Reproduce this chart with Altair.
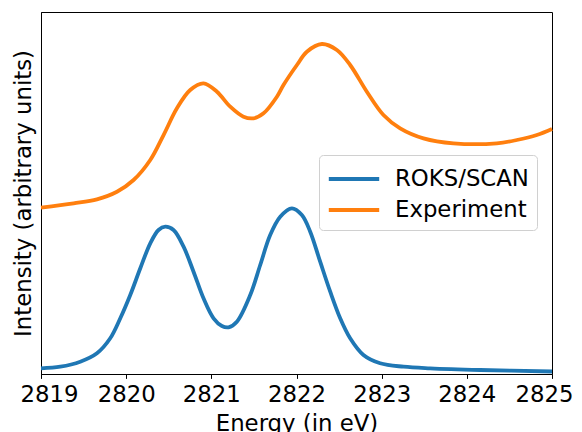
import altair as alt
import pandas as pd

series_names = ["ROKS/SCAN", "Experiment"]
series_colors = ["#1f77b4", "#ff7f0e"]

roks_energy = [2819.0, 2819.227, 2819.461, 2819.657, 2819.813, 2819.931, 2820.048, 2820.166,
               2820.283, 2820.380, 2820.459, 2820.556, 2820.674, 2820.791, 2820.908, 2821.026,
               2821.124, 2821.202, 2821.300, 2821.457, 2821.574, 2821.691, 2821.809,
               2821.946, 2822.063, 2822.161, 2822.278, 2822.396, 2822.513, 2822.630, 2822.786,
               2822.982, 2823.256, 2823.569, 2824.156, 2825.0]
roks_intensity = [0.0157, 0.0202, 0.0340, 0.0572, 0.0986, 0.1539, 0.2182, 0.2920,
                  0.3610, 0.3978, 0.4069, 0.3978, 0.3517, 0.2826, 0.2091, 0.1539,
                  0.1326, 0.1290, 0.1445, 0.2182, 0.3011, 0.3840, 0.4345,
                  0.4577, 0.4392, 0.3931, 0.3102, 0.2273, 0.1539, 0.0986, 0.0525,
                  0.0296, 0.0202, 0.0157, 0.0110, 0.0069]

exp_energy = [2819.0, 2819.383, 2819.657, 2819.892, 2820.087, 2820.283, 2820.439, 2820.596,
              2820.752, 2820.908, 2821.066, 2821.222, 2821.378, 2821.495, 2821.613, 2821.770,
              2821.847, 2822.005, 2822.122, 2822.298, 2822.474, 2822.630, 2822.826, 2823.021,
              2823.217, 2823.491, 2823.843, 2824.352, 2824.587, 2824.822, 2825.0]
exp_intensity = [0.4594, 0.4715, 0.4826, 0.5036, 0.5359, 0.5912, 0.6602, 0.7340,
                 0.7845, 0.8030, 0.7798, 0.7384, 0.7108, 0.7064, 0.7202, 0.7660,
                 0.7983, 0.8536, 0.8903, 0.9116, 0.8950, 0.8536, 0.7798, 0.7155,
                 0.6787, 0.6511, 0.6373, 0.6373, 0.6464, 0.6602, 0.6768]

x_ticks = [2819, 2820, 2821, 2822, 2823, 2824, 2825]

df = pd.concat([
    pd.DataFrame({"energy": roks_energy, "intensity": roks_intensity, "series": series_names[0]}),
    pd.DataFrame({"energy": exp_energy, "intensity": exp_intensity, "series": series_names[1]}),
])

FONT = "DejaVu Sans"
FS = 22.8

chart = alt.Chart(df).mark_line(strokeWidth=3.8, interpolate="catmull-rom").encode(
    x=alt.X("energy:Q",
            scale=alt.Scale(domain=[2819, 2825], nice=False, zero=False),
            axis=alt.Axis(values=x_ticks, format="d", title="Energy (in eV)",
                          labelFontSize=FS, titleFontSize=FS, labelFont=FONT, titleFont=FONT,
                          labelColor="black", titleColor="black", titleFontWeight="normal",
                          tickColor="black", tickSize=4.4, tickWidth=1, domainColor="black",
                          labelPadding=5, titleY=38, titleBaseline="top", grid=False,
                          labelFlush=True, labelFlushOffset=21)),
    y=alt.Y("intensity:Q",
            scale=alt.Scale(domain=[0, 1], nice=False, zero=False),
            axis=alt.Axis(labels=False, ticks=False, title="Intensity (arbitrary units)",
                          titleFontSize=FS, titleFont=FONT, titleColor="black",
                          titleFontWeight="normal", titleAngle=270, titleBaseline="alphabetic",
                          titleX=-10.5, titleY=181, titleAlign="center",
                          domainColor="black", grid=False)),
    color=alt.Color("series:N",
                    scale=alt.Scale(domain=series_names, range=series_colors),
                    legend=alt.Legend(orient="none", legendX=278, legendY=143, title=None,
                                      symbolType="M-1.8,0H1.8", symbolSize=784,
                                      symbolStrokeWidth=3.8, labelFontSize=FS, labelFont=FONT,
                                      labelColor="black", padding=8, rowPadding=3,
                                      symbolOffset=11, labelOffset=25, fillColor="white",
                                      strokeColor="#d0d0d0", cornerRadius=4)),
).properties(
    width=511, height=362,
    autosize=alt.AutoSizeParams(type="none"),
    padding={"left": 33, "top": 4, "right": 22, "bottom": 58},
).configure_view(stroke="black", strokeWidth=1)

chart.save("out.html", embed_options={"renderer": "svg", "actions": False})
